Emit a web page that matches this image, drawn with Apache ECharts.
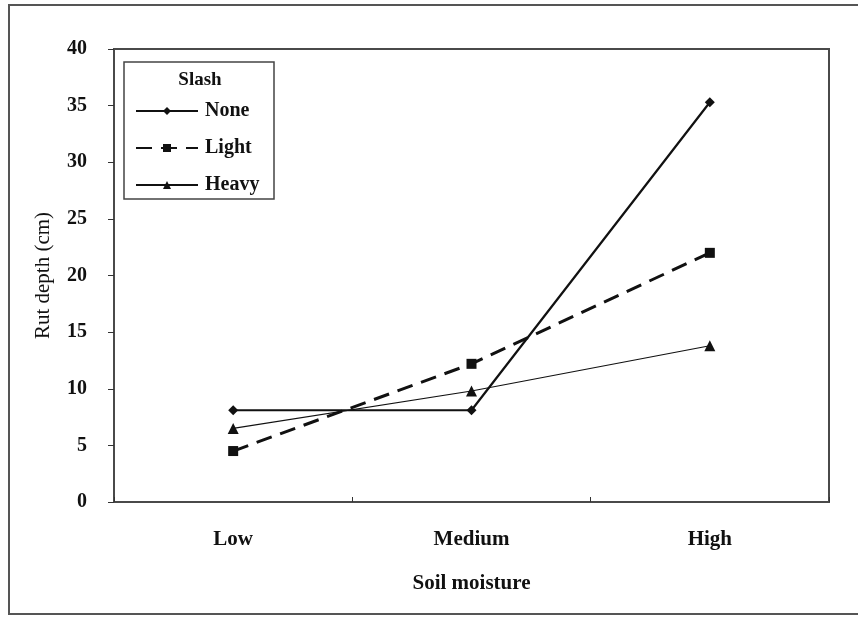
<!DOCTYPE html>
<html>
<head>
<meta charset="utf-8">
<script src="https://cdn.jsdelivr.net/npm/echarts@6/dist/echarts.min.js"></script>
<style>
  html, body { margin: 0; padding: 0; background: #fff; }
  #chart { width: 858px; height: 617px; }
</style>
</head>
<body>
<div id="chart"></div>
<script>
// Rut depth by soil moisture class for three slash treatments
const categories = ['Low', 'Medium', 'High'];
const noneValues = [8.1, 8.1, 35.3];
const lightValues = [4.5, 12.2, 22.0];
const heavyValues = [6.5, 9.8, 13.8];
const yTicks = [0, 5, 10, 15, 20, 25, 30, 35, 40];

const serif = '"Liberation Serif", "Times New Roman", serif';
const ink = '#111';

const chart = echarts.init(document.getElementById('chart'), null, { renderer: 'canvas' });

chart.setOption({
  backgroundColor: '#fff',
  animation: false,
  grid: {
    left: 114, top: 49, right: 29, bottom: 115,
    show: true, borderColor: '#4a4a4a', borderWidth: 2, containLabel: false
  },
  graphic: [
    // outer frame
    { type: 'rect', shape: { x: 9, y: 5, width: 870, height: 609 },
      style: { fill: 'none', stroke: '#555', lineWidth: 2 }, silent: true },
    // legend box
    { type: 'rect', shape: { x: 124, y: 62, width: 150, height: 137 },
      style: { fill: '#fff', stroke: '#444', lineWidth: 1.5 }, z: 5, silent: true },
    { type: 'text', x: 200, y: 80, z: 6,
      style: { text: 'Slash', font: 'bold 19px ' + serif, fill: ink,
               align: 'center', verticalAlign: 'middle' } }
  ],
  legend: {
    orient: 'vertical',
    left: 130, top: 96,
    itemWidth: 62, itemHeight: 10, itemGap: 17,
    z: 10,
    textStyle: { fontFamily: serif, fontWeight: 'bold', fontSize: 20, color: ink, padding: [0, 0, 0, 2] },
    data: ['None', 'Light', 'Heavy']
  },
  xAxis: {
    type: 'category',
    data: categories,
    boundaryGap: true,
    name: 'Soil moisture',
    nameLocation: 'middle',
    nameGap: 71,
    nameTextStyle: { fontFamily: serif, fontWeight: 'bold', fontSize: 21, color: ink },
    axisLine: { show: true, lineStyle: { color: '#4a4a4a', width: 2 } },
    axisTick: { show: true, inside: true, length: 5, lineStyle: { color: '#333', width: 1 } },
    axisLabel: { margin: 27, fontFamily: serif, fontWeight: 'bold', fontSize: 21, color: ink },
    splitLine: { show: false }
  },
  yAxis: {
    type: 'value',
    min: yTicks[0], max: yTicks[yTicks.length - 1], interval: yTicks[1] - yTicks[0],
    name: 'Rut depth (cm)',
    nameLocation: 'middle',
    nameGap: 60,
    nameTextStyle: { fontFamily: serif, fontWeight: 'normal', fontSize: 21, color: ink },
    axisLine: { show: true, lineStyle: { color: '#4a4a4a', width: 2 } },
    axisTick: { show: true, inside: false, length: 6, lineStyle: { color: '#333', width: 1 } },
    axisLabel: { margin: 27, fontFamily: serif, fontWeight: 'bold', fontSize: 20, color: ink },
    splitLine: { show: false }
  },
  series: [
    {
      name: 'None', type: 'line', data: noneValues,
      symbol: 'diamond', symbolSize: 10,
      lineStyle: { color: ink, width: 2.2, type: 'solid' },
      itemStyle: { color: ink }
    },
    {
      name: 'Light', type: 'line', data: lightValues,
      symbol: 'rect', symbolSize: 10,
      lineStyle: { color: ink, width: 3, type: [16, 9] },
      itemStyle: { color: ink }
    },
    {
      name: 'Heavy', type: 'line', data: heavyValues,
      symbol: 'triangle', symbolSize: 11,
      lineStyle: { color: ink, width: 1.2, type: 'solid' },
      itemStyle: { color: ink }
    }
  ]
});
</script>
</body>
</html>
